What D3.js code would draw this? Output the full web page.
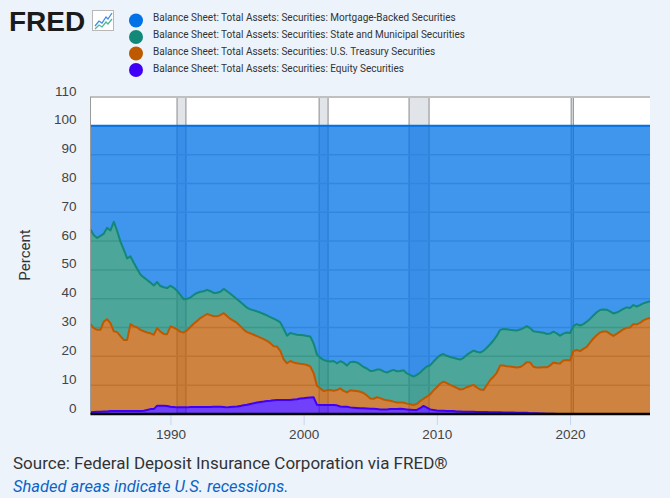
<!doctype html>
<html lang="en">
<head>
  <meta charset="utf-8">
  <title>Balance Sheet: Total Assets: Securities</title>
  <style>
    body { margin: 0; background: #ecf3fb; }
    svg { display: block; font-family: Roboto, "Noto Sans", sans-serif; }
  </style>
</head>
<body>
  <script src="https://cdn.jsdelivr.net/npm/d3@7"></script>
  <script>
    // Quarterly observations, 1984 Q1 .. 2026 Q1 (percent of total securities)
    const quarters = d3.timeMonth.every(3).range(new Date(1984, 0, 1), new Date(2026, 0, 2));

    const equity = [
      0.6, 0.7, 0.8, 0.8,  0.9, 0.9, 1.0, 1.0,  1.0, 1.0, 1.0, 1.0,  1.0, 1.0, 1.0, 1.0,
      1.1, 1.4, 1.7, 1.7,  2.9, 2.9, 2.9, 2.8,  2.5, 2.4, 2.3, 2.3,  2.3, 2.3, 2.4, 2.4,
      2.4, 2.4, 2.4, 2.4,  2.4, 2.5, 2.5, 2.5,  2.4, 2.3, 2.4, 2.5,  2.6, 2.8, 3.0, 3.2,
      3.5, 3.7, 4.0, 4.2,  4.3, 4.5, 4.6, 4.8,  4.9, 4.9, 4.9, 4.9,  4.9, 5.0, 5.1, 5.4,
      5.5, 5.6, 5.7, 5.8,  3.2, 3.1, 3.1, 3.1,  3.1, 3.1, 3.0, 2.6,  2.5, 2.5, 2.3, 2.2,
      2.1, 2.0, 2.0, 1.9,  1.8, 1.8, 1.7, 1.6,  1.6, 1.6, 1.7, 1.7,  1.7, 1.8, 1.7, 1.6,
      1.5, 1.4, 1.4, 2.0,  2.8, 2.2, 1.6, 1.4,  1.2, 1.1, 1.1, 1.0,  1.0, 1.0, 0.9, 0.9,
      0.8, 0.8, 0.8, 0.8,  0.7, 0.7, 0.7, 0.7,  0.6, 0.6, 0.6, 0.6,  0.5, 0.5, 0.5, 0.5,
      0.4, 0.4, 0.4, 0.4,  0.3, 0.3, 0.3, 0.2,  0.2, 0.1, 0.1, 0.1,  0, 0, 0, 0,
      0, 0, 0, 0,  0, 0, 0, 0,  0, 0, 0, 0,  0, 0, 0, 0,
      0, 0, 0, 0,  0, 0, 0, 0,  0, 0, 0, 0,  0
    ];

    const treasury = [
      30.6, 29.1, 28.4, 28.4,  31.2, 32.0, 30.5, 27.7,  27.4, 26.0, 24.7, 24.7,  30.2, 29.4, 29.1, 28.2,
      27.6, 26.9, 26.3, 25.8,  26.9, 25.7, 24.9, 24.9,  27.9, 27.6, 27.1, 26.2,  26.0, 26.7, 27.8, 28.9,
      29.9, 30.9, 31.6, 32.3,  31.9, 31.4, 31.4, 31.8,  32.6, 31.7, 30.6, 29.8,  29.0, 27.7, 26.3, 25.2,
      24.5, 23.8, 23.0, 22.3,  21.7, 20.9, 20.0, 18.7,  18.5, 17.0, 14.1, 12.7,  13.5, 12.9, 12.5, 12.0,
      11.8, 11.4, 10.8, 8.4,  6.5, 5.8, 4.9, 5.1,  5.2, 5.0, 5.3, 6.3,  5.5, 5.0, 5.9, 5.9,
      5.9, 5.7, 5.3, 4.5,  3.6, 3.5, 4.1, 3.9,  3.4, 3.2, 2.9, 2.6,  2.3, 2.2, 2.3, 2.0,
      1.9, 1.7, 2.1, 2.5,  2.5, 3.8, 5.2, 6.8,  8.1, 9.4, 10.1, 9.7,  9.1, 8.6, 8.2, 7.6,
      7.9, 8.5, 8.9, 9.3,  8.5, 7.8, 7.6, 9.3,  11.2, 12.3, 13.7, 16.2,  16.3, 16.1, 16.0, 15.8,
      15.7, 15.9, 16.6, 17.6,  17.6, 16.1, 15.8, 15.9,  16.0, 16.1, 16.7, 17.8,  17.6, 17.5, 18.6, 18.7,
      18.6, 21.8, 22.2, 21.8,  22.6, 23.3, 24.8, 26.2,  27.3, 28.3, 28.6, 28.6,  27.8, 27.1, 27.8, 28.6,
      29.4, 29.9, 30.0, 31.2,  31.1, 31.6, 32.5, 33.0,  33.3
    ];

    const municipal = [
      32.8, 32.2, 31.9, 32.6,  30.5, 31.7, 32.2, 38.0,  35.1, 32.8, 31.3, 28.3,  23.5, 22.1, 20.3, 19.2,
      18.7, 18.2, 17.6, 17.1,  16.0, 15.8, 16.2, 16.0,  14.1, 13.8, 13.4, 12.8,  11.5, 11.0, 10.2, 10.0,
      9.7, 9.1, 8.6, 8.4,  8.3, 8.1, 8.2, 8.1,  8.4, 8.6, 8.7, 8.5,  8.2, 8.4, 8.6, 8.5,
      8.3, 8.5, 8.6, 8.7,  8.7, 8.8, 9.0, 9.6,  9.1, 9.9, 10.6, 9.6,  9.7, 9.9, 9.9, 10.0,
      10.0, 10.1, 10.4, 10.3,  10.9, 10.6, 10.8, 10.2,  9.9, 10.3, 9.3, 9.4,  9.8, 9.3, 9.8, 10.0,
      9.9, 9.5, 9.0, 9.4,  9.5, 9.7, 9.6, 9.9,  9.8, 9.6, 10.3, 11.0,  10.8, 10.9, 11.2, 10.5,
      10.2, 9.9, 10.1, 9.9,  10.2, 10.5, 10.1, 10.0,  10.1, 9.9, 9.6, 9.5,  9.7, 9.9, 10.1, 10.4,
      10.8, 11.2, 11.6, 11.9,  12.4, 12.8, 13.6, 13.0,  12.4, 12.6, 12.8, 12.4,  12.7, 12.8, 12.7, 12.8,
      12.9, 13.0, 12.8, 12.5,  11.9, 12.3, 12.4, 12.3,  12.0, 11.6, 11.1, 10.7,  10.4, 9.7, 9.3, 9.6,
      9.5, 8.7, 9.0, 8.9,  8.6, 8.7, 8.2, 8.0,  8.0, 7.8, 7.7, 7.6,  7.8, 7.8, 7.4, 7.2,
      7.1, 7.1, 6.8, 6.6,  6.2, 6.2, 5.9, 5.8,  5.8
    ];

    const mortgage = [
      36.0, 38.0, 38.9, 38.2,  37.4, 35.4, 36.3, 33.3,  36.5, 40.2, 43.0, 46.0,  45.3, 47.5, 49.6, 51.6,
      52.6, 53.5, 54.4, 55.4,  54.2, 55.6, 56.0, 56.3,  55.5, 56.2, 57.2, 58.7,  60.2, 60.0, 59.6, 58.7,
      58.0, 57.6, 57.4, 56.9,  57.4, 58.0, 57.9, 57.6,  56.6, 57.4, 58.3, 59.2,  60.2, 61.1, 62.1, 63.1,
      63.7, 64.0, 64.4, 64.8,  65.3, 65.8, 66.4, 66.9,  67.5, 68.2, 70.4, 72.8,  71.9, 72.2, 72.5, 72.6,
      72.7, 72.9, 73.1, 75.5,  79.4, 80.5, 81.2, 81.6,  81.8, 81.6, 82.4, 81.7,  82.2, 83.2, 82.0, 81.9,
      82.1, 82.8, 83.7, 84.2,  85.1, 85.0, 84.6, 84.6,  85.2, 85.6, 85.1, 84.7,  85.2, 85.1, 84.8, 85.9,
      86.4, 87.0, 86.4, 85.6,  84.5, 83.5, 83.1, 81.8,  80.6, 79.6, 79.2, 79.8,  80.2, 80.5, 80.8, 81.1,
      80.5, 79.5, 78.7, 78.0,  78.4, 78.7, 78.1, 77.0,  75.8, 74.5, 72.9, 70.8,  70.5, 70.6, 70.8, 70.9,
      71.0, 70.7, 70.2, 69.5,  70.2, 71.3, 71.5, 71.6,  71.8, 72.2, 72.1, 71.4,  72.0, 72.8, 72.1, 71.7,
      71.9, 69.5, 68.8, 69.3,  68.8, 68.0, 67.0, 65.8,  64.7, 63.9, 63.7, 63.8,  64.4, 65.1, 64.8, 64.2,
      63.5, 63.0, 63.2, 62.2,  62.7, 62.2, 61.6, 61.2,  60.9
    ];

    const seriesNames = [
      'Balance Sheet: Total Assets: Securities: Mortgage-Backed Securities',
      'Balance Sheet: Total Assets: Securities: State and Municipal Securities',
      'Balance Sheet: Total Assets: Securities: U.S. Treasury Securities',
      'Balance Sheet: Total Assets: Securities: Equity Securities'
    ];
    const seriesColors = ['#0071e6', '#118878', '#bf5900', '#4000f8'];

    const recessionStarts = ['1990-07-01', '2001-03-01', '2007-12-01', '2020-02-01'];
    const recessionEnds = ['1991-03-01', '2001-11-01', '2009-06-01', '2020-04-01'];

    const yTicks = [0, 10, 20, 30, 40, 50, 60, 70, 80, 90, 100, 110];
    const xTickYears = [1990, 2000, 2010, 2020];

    // Layout
    const w = 670;
    const h = 498;
    const plotLeft = 90.5;
    const plotRight = 650;
    const plotTop = 97;
    const plotBottom = 414;

    const rows = quarters.map((d, i) => ({
      date: d,
      equity: equity[i],
      treasury: treasury[i],
      municipal: municipal[i],
      mortgage: mortgage[i]
    }));

    // bottom to top
    const keys = ['equity', 'treasury', 'municipal', 'mortgage'];
    const colorOf = {
      mortgage: seriesColors[0],
      municipal: seriesColors[1],
      treasury: seriesColors[2],
      equity: seriesColors[3]
    };
    const stacked = d3.stack().keys(keys)(rows);

    const xScale = d3.scaleTime()
                     .domain([new Date(1984, 0, 1), new Date(2026, 0, 1)])
                     .range([plotLeft, plotRight]);
    const yScale = d3.scaleLinear()
                     .domain([0, 110])
                     .range([plotBottom, plotTop]);

    const svg = d3.select('body')
                  .append('svg')
                  .attr('width', w)
                  .attr('height', h);

    // FRED logo
    const logo = svg.append('g');
    logo.append('text')
        .attr('x', 9)
        .attr('y', 31)
        .style('font-family', '"Liberation Sans", Arial, sans-serif')
        .style('font-weight', 900)
        .style('font-size', '28px')
        .attr('fill', '#1b1b1b')
        .text('FRED');
    logo.append('rect')
        .attr('x', 92.5).attr('y', 10.5)
        .attr('width', 21).attr('height', 20)
        .attr('fill', '#fff')
        .attr('stroke', '#b8b8b8');
    logo.append('path')
        .attr('d', 'M95,26 L99,21 L102,23 L106,17 L108,19 L112,13')
        .attr('fill', 'none').attr('stroke', '#3f8fe0').attr('stroke-width', 1.3);
    logo.append('path')
        .attr('d', 'M95,29 L99,25 L102,27 L106,22 L108,24 L112,19')
        .attr('fill', 'none').attr('stroke', '#53b49b').attr('stroke-width', 1.3);

    // Legend
    const legend = svg.append('g');
    seriesNames.forEach((name, i) => {
      legend.append('circle')
            .attr('cx', 136)
            .attr('cy', 20.5 + i * 16.5)
            .attr('r', 7)
            .attr('fill', seriesColors[i]);
      legend.append('text')
            .attr('x', 153)
            .attr('y', 20.5 + i * 17)
            .style('font-size', '10px')
            .attr('fill', '#333')
            .text(name);
    });

    // Plot background
    svg.append('rect')
       .attr('x', plotLeft)
       .attr('y', plotTop)
       .attr('width', plotRight - plotLeft)
       .attr('height', plotBottom - plotTop)
       .attr('fill', '#fff');

    // Recession bands
    const parse = d3.timeParse('%Y-%m-%d');
    const bands = svg.append('g');
    recessionStarts.forEach((s, i) => {
      const x0 = xScale(parse(s));
      const x1 = xScale(parse(recessionEnds[i]));
      bands.append('rect')
           .attr('x', x0).attr('y', plotTop)
           .attr('width', x1 - x0).attr('height', plotBottom - plotTop)
           .attr('fill', '#e1e5ea');
      [x0, x1].forEach((xx) => {
        bands.append('line')
             .attr('x1', xx).attr('x2', xx)
             .attr('y1', plotTop).attr('y2', plotBottom)
             .attr('stroke', '#9a9a9a')
             .attr('stroke-width', 1.2);
      });
    });

    // Gridlines
    svg.append('g')
       .selectAll('line')
       .data(yTicks.filter((v) => v < 110))
       .enter()
       .append('line')
       .attr('x1', plotLeft).attr('x2', plotRight)
       .attr('y1', (d) => yScale(d)).attr('y2', (d) => yScale(d))
       .attr('stroke', '#c4c4c4')
       .attr('stroke-width', 1.5);

    // Areas
    const area = d3.area()
                   .x((d) => xScale(d.data.date))
                   .y0((d) => yScale(d[0]))
                   .y1((d) => yScale(d[1]));
    const topLine = d3.line()
                      .x((d) => xScale(d.data.date))
                      .y((d) => yScale(d[1]));

    svg.append('g')
       .selectAll('path')
       .data(stacked)
       .enter()
       .append('path')
       .attr('d', area)
       .attr('fill', (d) => colorOf[d.key])
       .attr('fill-opacity', 0.75);

    svg.append('g')
       .selectAll('path')
       .data(stacked)
       .enter()
       .append('path')
       .attr('d', topLine)
       .attr('fill', 'none')
       .attr('stroke', (d) => colorOf[d.key])
       .attr('stroke-width', 2)
       .attr('stroke-linejoin', 'round');

    // Frame
    svg.append('line')
       .attr('x1', plotLeft - 0.5).attr('x2', plotRight)
       .attr('y1', plotTop).attr('y2', plotTop)
       .attr('stroke', '#c0c0c0').attr('stroke-width', 2);
    svg.append('line')
       .attr('x1', plotLeft).attr('x2', plotLeft)
       .attr('y1', plotTop).attr('y2', plotBottom)
       .attr('stroke', '#9a9a9a').attr('stroke-width', 1);

    // Axes
    const xAxis = d3.axisBottom(xScale)
                    .tickValues(xTickYears.map((y) => new Date(y, 0, 1)))
                    .tickFormat(d3.timeFormat('%Y'))
                    .tickSize(11)
                    .tickPadding(4);
    const gx = svg.append('g')
                  .attr('transform', `translate(0, ${plotBottom})`)
                  .call(xAxis);
    gx.select('.domain').remove();
    gx.selectAll('line').attr('stroke', '#ccd6eb');
    gx.selectAll('text')
      .style('font-size', '13.5px')
      .attr('fill', '#444');

    svg.append('line')
       .attr('x1', plotLeft).attr('x2', plotRight)
       .attr('y1', plotBottom).attr('y2', plotBottom)
       .attr('stroke', '#000').attr('stroke-width', 2.5);

    const yAxis = d3.axisLeft(yScale)
                    .tickValues(yTicks)
                    .tickSize(0)
                    .tickPadding(14);
    const gy = svg.append('g')
                  .attr('transform', `translate(${plotLeft}, 0)`)
                  .call(yAxis);
    gy.select('.domain').remove();
    gy.selectAll('text')
      .attr('dy', '-2px')
      .style('font-size', '13.5px')
      .attr('fill', '#444');

    svg.append('text')
       .attr('transform', 'translate(30, 255) rotate(-90)')
       .attr('text-anchor', 'middle')
       .style('font-size', '15px')
       .attr('fill', '#333')
       .text('Percent');

    // Notes
    svg.append('text')
       .attr('x', 13).attr('y', 469)
       .style('font-size', '17px')
       .attr('fill', '#333')
       .text('Source: Federal Deposit Insurance Corporation via FRED®');
    svg.append('text')
       .attr('x', 13).attr('y', 492)
       .style('font-size', '16.5px')
       .style('font-style', 'italic')
       .attr('fill', '#0b63c5')
       .text('Shaded areas indicate U.S. recessions.');
  </script>
</body>
</html>
